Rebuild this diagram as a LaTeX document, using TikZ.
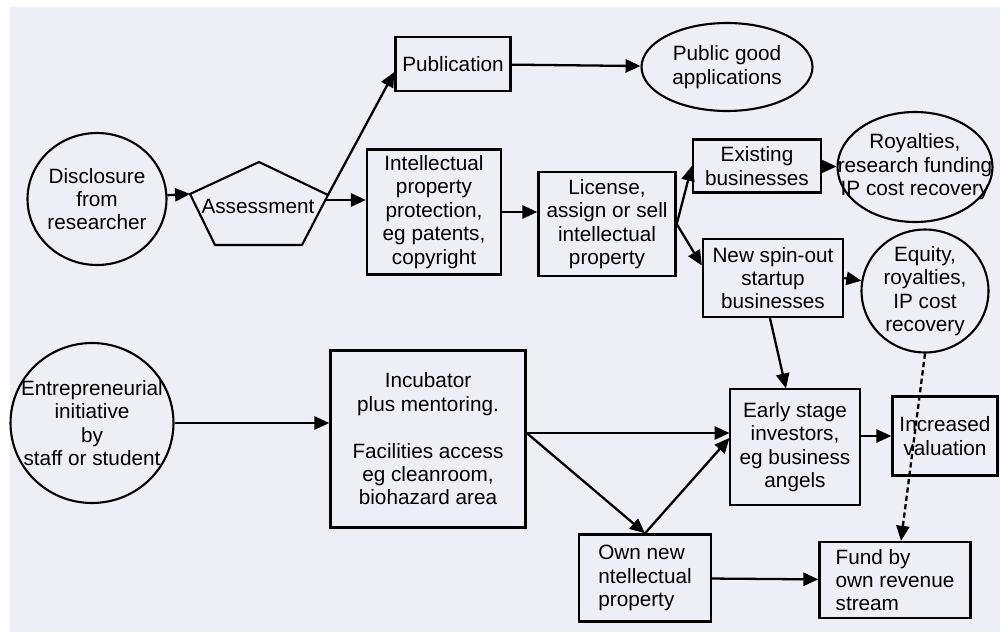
\documentclass[tikz,border=0pt]{standalone}
\usepackage{fontspec}
\setmainfont{Liberation Sans}
\usepackage{tikz}
\usetikzlibrary{shapes,arrows.meta,positioning,calc}
\usepackage{xcolor}
\definecolor{paper}{RGB}{237,239,245}

\begin{document}
\begin{tikzpicture}[
    x=0.02cm, y=-0.02cm,
    >={Triangle[length=8.5pt,width=7.5pt]},
    font=\fontsize{11.8}{13.3}\selectfont,
    box/.style={rectangle, draw, line width=1.4pt, inner sep=2pt, align=center},
    oval/.style={ellipse, draw, line width=1.2pt, inner sep=0pt},
    txt/.style={align=center, inner sep=0pt},
    link/.style={line width=1.3pt}
]

% Page
\useasboundingbox (0,0) rectangle (1000,632);
\fill[white] (0,0) rectangle (1000,632);
\fill[paper] (10,7) rectangle (1000,632);

% Disclosure and assessment
\node[oval, minimum width=2.78cm, minimum height=2.64cm] (disclose) at (97,199) {};
\node[txt] at (disclose) {Disclosure\\from\\researcher};
\coordinate (aT) at (259,162);
\coordinate (aR) at (328,195);
\coordinate (aBR) at (302,245);
\coordinate (aBL) at (215,245);
\coordinate (aL) at (190,194);
\draw[line width=1.2pt] (aT) -- (aR) -- (aBR) -- (aBL) -- (aL) -- cycle;
\node (assess) at (258,206) {Assessment};
\coordinate (aOut) at (326,200);

% Upper path
\node[box, minimum width=2.3cm, minimum height=1.08cm] (pub) at (453,64) {Publication};
\node[oval, minimum width=3.42cm, minimum height=1.76cm] (pubgood) at (727,67) {};
\node[txt] at (pubgood) {Public good\\applications};
\node[box, minimum width=2.68cm, minimum height=2.5cm] (ipp) at (434,212) {Intellectual\\property\\protection,\\eg patents,\\copyright};
\node[box, minimum width=2.74cm, minimum height=2.08cm] (lic) at (607,224) {License,\\assign or sell\\intellectual\\property};
\node[box, minimum width=2.56cm, minimum height=1.06cm] (exist) at (757,166) {Existing\\businesses};
\node[oval, minimum width=3.1cm, minimum height=2.2cm] (royal) at (915,167) {};
\node[txt] at (royal) {Royalties,\\research funding\\IP cost recovery};
\node[box, minimum width=2.8cm, minimum height=1.56cm] (spin) at (773,278) {New spin-out\\startup\\businesses};
\node[oval, minimum width=2.54cm, minimum height=2.46cm] (equity) at (925,291) {};
\node[txt] at (equity) {Equity,\\royalties,\\IP cost\\recovery};

% Lower path
\node[oval, minimum width=3.26cm, minimum height=3.2cm] (ent) at (92,423) {};
\node[txt] at (ent) {Entrepreneurial\\initiative\\by\\staff or student};
\node[box, minimum width=3.9cm, minimum height=3.54cm] (incub) at (428,439) {Incubator\\plus mentoring.\\[13.3pt]Facilities access\\eg cleanroom,\\biohazard area};
\node[box, line width=0.6pt, minimum width=2.6cm, minimum height=2.32cm] (early) at (795,447) {Early stage\\investors,\\eg business\\angels};
\node[box, minimum width=2.1cm, minimum height=1.58cm] (incval) at (945,436) {Increased\\valuation};
\node[box, align=left, minimum width=2.64cm, minimum height=1.74cm] (ownip) at (645,578) {Own new\\ntellectual\\property};
\node[box, align=left, minimum width=3.02cm, minimum height=1.52cm] (fund) at (895,580) {Fund by\\own revenue\\stream};
\coordinate (split) at ($(incub.east)+(0,-6)$);

% Arrows - upper path
\draw[link, ->] (disclose) -- (aL);
\draw[link, ->] (aR) -- ($(pub.west)+(0,8)$);
\draw[link, ->] (aOut) -- (aOut -| ipp.west);
\draw[link, ->] (pub) -- (pubgood);
\draw[link, ->] (ipp.east) -- (ipp.east -| lic.west);
\draw[link, ->] (lic.east) -- (exist.west);
\draw[link, ->] (lic.east) -- (spin.170);
\draw[link, ->] (exist) -- (royal);
\draw[link, ->] (spin.east) -- (equity);
\draw[link, ->] ($(spin.south)+(-3,0)$) -- ($(early.north)+(-9,0)$);

% Arrows - lower path
\draw[link, ->] (ent.east) -- (ent.east -| incub.west);
\draw[link, ->] (split) -- (split -| early.west);
\draw[link, ->] (split) -- (ownip.north);
\draw[link, ->] (ownip.north) -- ($(early.west)+(0,-9)$);
\draw[link, ->] (incval.west -| early.east) -- (incval.west);
\draw[link, ->] (ownip) -- (fund);

% Dashed return
\draw[link, dash pattern=on 3pt off 1.8pt, ->] (equity.south) -- ($(fund.north)+(6,0)$);

\end{tikzpicture}
\end{document}
